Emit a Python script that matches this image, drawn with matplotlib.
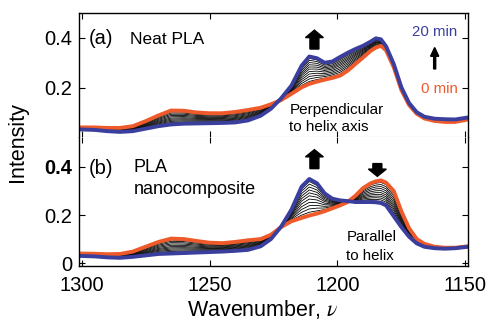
import matplotlib
matplotlib.use("Agg")
import matplotlib.pyplot as plt
import numpy as np

plt.rcParams["font.family"] = ["Liberation Sans", "DejaVu Sans"]
plt.rcParams["mathtext.fontset"] = "stix"

wavenumber = [1301, 1295, 1290, 1285, 1280, 1275, 1270, 1265, 1260, 1255,
              1250, 1245, 1240, 1235, 1230, 1226, 1222, 1218, 1214, 1211,
              1208, 1205, 1202, 1199, 1196, 1193, 1190, 1187, 1185, 1183,
              1181, 1178, 1175, 1172, 1169, 1166, 1162, 1158, 1154, 1149]

# (a) neat PLA, perpendicular to helix axis
neat_0min = [0.040, 0.040, 0.038, 0.038, 0.045, 0.065, 0.088, 0.108, 0.107, 0.100,
             0.097, 0.097, 0.102, 0.110, 0.119, 0.133, 0.150, 0.175, 0.201, 0.215,
             0.224, 0.232, 0.239, 0.248, 0.268, 0.295, 0.321, 0.348, 0.361, 0.368,
             0.350, 0.282, 0.190, 0.130, 0.095, 0.076, 0.066, 0.062, 0.062, 0.072]
neat_20min = [0.032, 0.030, 0.025, 0.022, 0.025, 0.035, 0.045, 0.052, 0.055, 0.056,
              0.057, 0.058, 0.060, 0.068, 0.087, 0.115, 0.157, 0.208, 0.288, 0.325,
              0.318, 0.300, 0.305, 0.323, 0.340, 0.355, 0.368, 0.385, 0.398, 0.394,
              0.366, 0.295, 0.201, 0.138, 0.101, 0.083, 0.075, 0.073, 0.072, 0.080]

# (b) PLA nanocomposite, parallel to helix
nano_0min = [0.040, 0.039, 0.037, 0.038, 0.048, 0.068, 0.088, 0.102, 0.100, 0.092,
             0.085, 0.083, 0.088, 0.095, 0.100, 0.118, 0.150, 0.174, 0.188, 0.198,
             0.206, 0.216, 0.228, 0.240, 0.254, 0.280, 0.312, 0.332, 0.340, 0.344,
             0.335, 0.300, 0.215, 0.145, 0.100, 0.080, 0.068, 0.064, 0.064, 0.070]
nano_20min = [0.030, 0.028, 0.024, 0.022, 0.026, 0.032, 0.038, 0.040, 0.042, 0.044,
              0.046, 0.048, 0.051, 0.055, 0.070, 0.100, 0.152, 0.222, 0.318, 0.350,
              0.332, 0.290, 0.268, 0.261, 0.258, 0.254, 0.254, 0.254, 0.253, 0.250,
              0.240, 0.195, 0.150, 0.110, 0.082, 0.068, 0.062, 0.060, 0.062, 0.068]

# position of the intermediate spectra between 0 and 20 min (fraction of change)
step_frac = [0.09, 0.18, 0.27, 0.36, 0.45, 0.54, 0.62, 0.70, 0.78, 0.86, 0.93]

BLUE = "#3a3f9e"
ORANGE = "#ef5a2a"

fig = plt.figure(figsize=(4.91, 3.24), dpi=100)
ax1 = fig.add_axes([0.161, 0.576, 0.792, 0.384])
ax2 = fig.add_axes([0.161, 0.179, 0.792, 0.397])


def draw_panel(ax, start, end):
    start = np.array(start)
    end = np.array(end)
    for f in step_frac:
        ax.plot(wavenumber, start + f * (end - start), color="black", linewidth=0.6)
    ax.plot(wavenumber, start, color=ORANGE, linewidth=2.8, solid_joinstyle="round")
    ax.plot(wavenumber, end, color=BLUE, linewidth=2.8, solid_joinstyle="round")
    ax.set_xlim(1301, 1149)
    ax.set_xticks([1300, 1250, 1200, 1150])
    ax.tick_params(direction="in", top=True, right=True, length=4, width=0.8,
                   labelsize=14.5)
    ax.tick_params(axis="y", pad=5)
    ax.tick_params(axis="x", pad=7)
    for s in ax.spines.values():
        s.set_linewidth(1.0)


draw_panel(ax1, neat_0min, neat_20min)
ax1.set_ylim(0, 0.5)
ax1.set_yticks([0.2, 0.4])
ax1.set_yticklabels(["0.2", "0.4"])
ax1.tick_params(axis="x", labelbottom=False)
ax1.spines["bottom"].set_color("#999999")
ax1.spines["bottom"].set_linewidth(0.8)

draw_panel(ax2, nano_0min, nano_20min)
ax2.set_ylim(-0.012, 0.523)
ax2.set_yticks([0, 0.2, 0.4])
ax2.set_yticklabels(["0", "0.2", "0.4"])
ax2.get_yticklabels()[2].set_fontweight("bold")
ax2.spines["top"].set_visible(False)

# panel (a) annotations
ax1.text(1297.3, 0.375, "(a)", fontsize=14.5)
ax1.text(1280.9, 0.375, "Neat PLA", fontsize=12.5)
ax1.text(1153.1, 0.408, "20 min", fontsize=10.8, color=BLUE, ha="right")
ax1.text(1153.1, 0.177, "0 min", fontsize=10.8, color=ORANGE, ha="right")
ax1.text(1218.8, 0.095, "Perpendicular", fontsize=11)
ax1.text(1218.8, 0.025, "to helix axis", fontsize=11)
ax1.arrow(1209.0, 0.355, 0, 0.076, width=3.5, head_width=7.0, head_length=0.03,
          length_includes_head=True, color="black")
ax1.arrow(1162.0, 0.275, 0, 0.086, width=0.8, head_width=3.2, head_length=0.035,
          length_includes_head=True, color="black")

# panel (b) annotations
ax2.text(1297.3, 0.372, "(b)", fontsize=14.5)
ax2.text(1279.7, 0.379, "PLA", fontsize=13)
ax2.text(1279.7, 0.289, "nanocomposite", fontsize=13)
ax2.text(1196.5, 0.091, "Parallel", fontsize=10.8)
ax2.text(1196.5, 0.015, "to helix", fontsize=10.8)
ax2.arrow(1209.0, 0.393, 0, 0.079, width=3.5, head_width=7.0, head_length=0.03,
          length_includes_head=True, color="black")
ax2.arrow(1184.4, 0.414, 0, -0.053, width=3.5, head_width=7.0, head_length=0.03,
          length_includes_head=True, color="black")

fig.text(0.0356, 0.560, "Intensity", rotation=90, ha="center", va="center",
         fontsize=15.5)
fig.text(0.536, 0.025, "Wavenumber, $\\nu$", ha="center", va="baseline",
         fontsize=15.5)

fig.savefig("out.png", dpi=100)
